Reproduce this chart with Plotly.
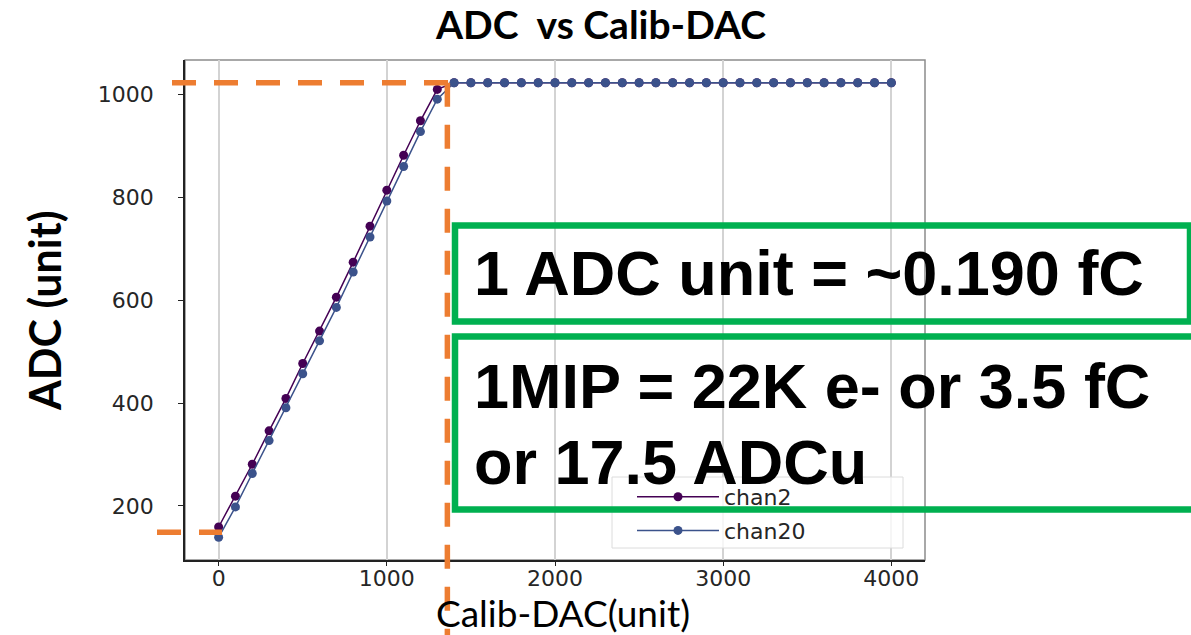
import plotly.graph_objects as go

# ---------------- data ----------------
calib_dac = [0, 100, 200, 300, 400, 500, 600, 700, 800, 900, 1000, 1100, 1200, 1300,
             1400, 1500, 1600, 1700, 1800, 1900, 2000, 2100, 2200, 2300, 2400, 2500,
             2600, 2700, 2800, 2900, 3000, 3100, 3200, 3300, 3400, 3500, 3600, 3700,
             3800, 3900, 4000]
chan2 = [159, 219, 281, 346, 409, 477, 540, 606, 674, 744, 814, 882, 949, 1010,
         1023, 1023, 1023, 1023, 1023, 1023, 1023, 1023, 1023, 1023, 1023, 1023,
         1023, 1023, 1023, 1023, 1023, 1023, 1023, 1023, 1023, 1023, 1023, 1023,
         1023, 1023, 1023]
chan20 = [139, 198, 263, 327, 391, 457, 521, 586, 655, 723, 793, 860, 928, 991,
          1023, 1023, 1023, 1023, 1023, 1023, 1023, 1023, 1023, 1023, 1023, 1023,
          1023, 1023, 1023, 1023, 1023, 1023, 1023, 1023, 1023, 1023, 1023, 1023,
          1023, 1023, 1023]
x_ticks = [0, 1000, 2000, 3000, 4000]
y_ticks = [200, 400, 600, 800, 1000]

# reference levels marked by the dashed guide lines
dac_saturation = 1360
adc_saturation = 1023
adc_pedestal = 149

title_text = "ADC  vs Calib-DAC"
x_title = "Calib-DAC(unit)"
y_title = "ADC (unit)"
note1 = "1 ADC unit = ~0.190 fC"
note2 = "1MIP = 22K e- or 3.5 fC"
note3 = "or 17.5 ADCu"

# ---------------- geometry ----------------
W, H = 1191, 635
L, R, T, B = 185, 266, 60, 75
PW, PH = W - L - R, H - T - B

x_lo, x_hi = -200, 4200
y_span = max(chan2 + chan20) - min(chan2 + chan20)
y_lo = min(chan2 + chan20) - 0.05 * y_span
y_hi = max(chan2 + chan20) + 0.05 * y_span


def px(x):
    return (x - L) / PW


def py(y):
    return (H - B - y) / PH


def dx(v):
    return (v - x_lo) / (x_hi - x_lo)


def dy(v):
    return (v - y_lo) / (y_hi - y_lo)


fig = go.Figure()
fig.add_trace(go.Scatter(x=calib_dac, y=chan2, mode="lines+markers", name="chan2",
                         legendgroup="a",
                         line=dict(color="#440154", width=1.5),
                         marker=dict(color="#440154", size=9)))
fig.add_trace(go.Scatter(x=calib_dac, y=chan20, mode="lines+markers", name="chan20",
                         legendgroup="b",
                         line=dict(color="#3b528b", width=1.5),
                         marker=dict(color="#3b528b", size=9)))

tick_font = dict(family="DejaVu Sans", size=22, color="#262626")

fig.update_layout(
    width=W, height=H, autosize=False,
    margin=dict(l=L, r=R, t=T, b=B, pad=0),
    paper_bgcolor="white", plot_bgcolor="white",
    showlegend=True,
    legend=dict(x=px(632), y=py(476), xanchor="left", yanchor="top",
                bgcolor="rgba(0,0,0,0)", borderwidth=0,
                font=dict(family="DejaVu Sans", size=22, color="#262626"),
                itemwidth=82, tracegroupgap=2),
    xaxis=dict(range=[x_lo, x_hi], tickvals=x_ticks, showgrid=True,
               gridcolor="#d3d3d3", gridwidth=1.5, zeroline=False,
               showline=True, linecolor="#222", linewidth=1.5,
               ticks="outside", ticklen=4, tickcolor="#222", tickwidth=1.2,
               tickfont=tick_font, ticklabelstandoff=-6),
    yaxis=dict(range=[y_lo, y_hi], tickvals=y_ticks, showgrid=False,
               zeroline=False, showline=True, linecolor="#222", linewidth=1.5,
               ticks="outside", ticklen=5, tickcolor="#222", tickwidth=1.2,
               tickfont=tick_font, ticklabelstandoff=20),
)

shapes = []
# axes frame (top / right spines)
shapes.append(dict(type="rect", xref="paper", yref="paper", x0=0, x1=1, y0=0, y1=1,
                   line=dict(color="#8c8c8c", width=1.5), layer="below"))
# legend frame
shapes.append(dict(type="rect", xref="paper", yref="paper",
                   x0=px(612), x1=px(903), y0=py(548), y1=py(477),
                   fillcolor="rgba(255,255,255,0.8)",
                   line=dict(color="#dcdcdc", width=1), layer="above"))

orange = dict(color="#ED7D31", width=5.5, dash="24px,18px")
# top horizontal guide at saturation
shapes.append(dict(type="line", xref="paper", yref="paper",
                   x0=px(172), x1=dx(dac_saturation) + 3 / PW,
                   y0=dy(adc_saturation), y1=dy(adc_saturation), line=orange))
# vertical guide at saturation point
shapes.append(dict(type="line", xref="paper", yref="paper",
                   x0=dx(dac_saturation), x1=dx(dac_saturation),
                   y0=dy(adc_saturation), y1=py(640), line=orange))
# pedestal guide
shapes.append(dict(type="line", xref="paper", yref="paper",
                   x0=px(157), x1=dx(20),
                   y0=dy(adc_pedestal), y1=dy(adc_pedestal), line=orange))

green = dict(color="#00B050", width=6.5)
shapes.append(dict(type="rect", xref="paper", yref="paper",
                   x0=px(455), x1=px(1190), y0=py(321.5), y1=py(225.5), line=green))
shapes.append(dict(type="rect", xref="paper", yref="paper",
                   x0=px(455), x1=px(1200), y0=py(509.5), y1=py(336.5), line=green))
fig.update_layout(shapes=shapes)

ann = []
ann.append(dict(text=f"<b>{title_text}</b>", xref="paper", yref="paper",
                x=px(600), y=py(24), xanchor="center", yanchor="middle",
                showarrow=False, font=dict(family="Lato", size=39, color="black")))
ann.append(dict(text=f"<b>{y_title}</b>", xref="paper", yref="paper",
                x=px(44), y=py(311), xanchor="center", yanchor="middle",
                textangle=-90, showarrow=False,
                font=dict(family="Lato", size=43, color="black")))
ann.append(dict(text=x_title, xref="paper", yref="paper",
                x=px(562.5), y=py(612), xanchor="center", yanchor="middle",
                showarrow=False, font=dict(family="Lato", size=37, color="black")))
note_font = dict(family="Liberation Sans", size=63, color="black")
for txt, cy in [(note1, 272.5), (note2, 385.5), (note3, 462.5)]:
    ann.append(dict(text=f"<b>{txt}</b>", xref="paper", yref="paper",
                    x=px(472), y=py(cy), xanchor="left", yanchor="middle",
                    showarrow=False, font=note_font))
fig.update_layout(annotations=ann)

fig.write_html("out.html", config={"displayModeBar": False},
               post_script="document.body.style.margin='0px';")
